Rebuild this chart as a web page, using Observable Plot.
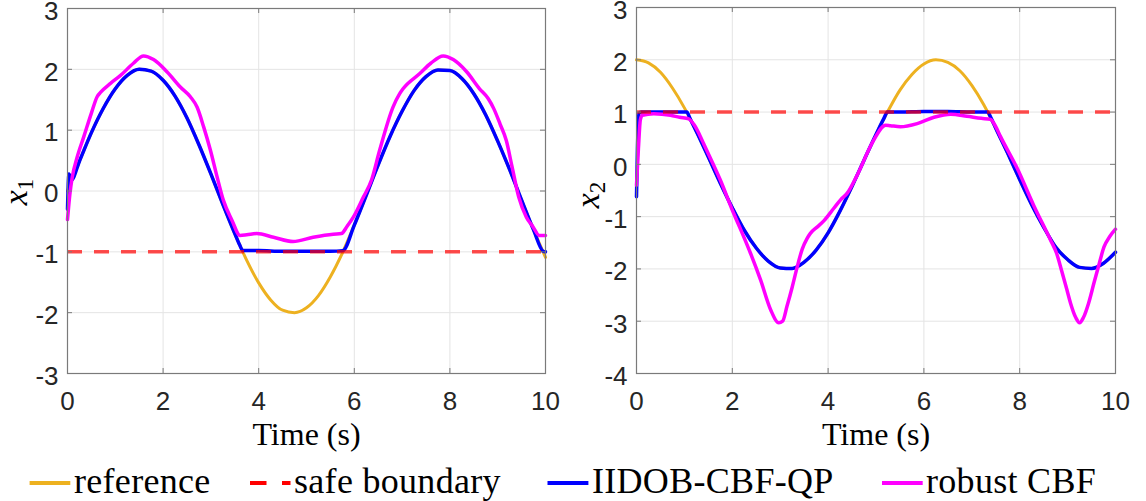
<!DOCTYPE html>
<html><head><meta charset="utf-8">
<script src="https://cdn.jsdelivr.net/npm/d3@7"></script>
<script src="https://cdn.jsdelivr.net/npm/@observablehq/plot@0.6"></script>
<style>
html,body{margin:0;padding:0;background:#fff;}
#wrap{position:relative;width:1146px;height:501px;overflow:hidden;background:#fff;}
#panels{display:flex;position:absolute;left:0;top:0;}
#legend{position:absolute;left:0;top:455px;overflow:visible;}
</style></head><body>
<div id="wrap"><div id="panels"></div><svg id="legend" width="1146" height="46"></svg></div>
<script>
// ---------- data ----------
const timeRef = [0,0.25,0.5,0.75,1,1.25,1.5,1.75,2,2.25,2.5,2.75,3,3.25,3.5,3.75,4,4.25,4.5,4.75,5,5.25,5.5,5.75,6,6.25,6.5,6.75,7,7.25,7.5,7.75,8,8.25,8.5,8.75,9,9.25,9.5,9.75,10];
const ref1 = [0,0.49,0.96,1.36,1.68,1.90,2.00,1.97,1.82,1.56,1.20,0.76,0.28,-0.22,-0.70,-1.14,-1.51,-1.79,-1.96,-2.00,-1.92,-1.72,-1.41,-1.02,-0.56,-0.07,0.43,0.90,1.31,1.65,1.88,1.99,1.98,1.85,1.60,1.25,0.82,0.35,-0.15,-0.64,-1.09];
const ref2 = [2.00,1.94,1.76,1.46,1.08,0.63,0.14,-0.36,-0.83,-1.26,-1.60,-1.85,-1.98,-1.99,-1.87,-1.64,-1.31,-0.89,-0.42,0.08,0.57,1.02,1.42,1.72,1.92,2.00,1.95,1.79,1.51,1.14,0.69,0.21,-0.29,-0.77,-1.20,-1.58,-1.82,-1.97,-1.99,-1.89,-1.68];

const timeIidob1 = [0,0.03,0.08,0.25,0.5,0.75,1,1.25,1.5,1.75,2,2.25,2.5,2.75,3,3.25,3.5,3.6,3.67,4,4.5,5,5.5,5.76,6,6.25,6.5,6.75,7,7.25,7.5,7.75,8,8.25,8.5,8.75,9,9.25,9.5,9.75,9.95,10];
const iidob1 = [-0.3,0.28,0.18,0.49,0.96,1.36,1.68,1.90,2.00,1.97,1.82,1.56,1.20,0.76,0.28,-0.22,-0.70,-0.885,-0.98,-0.98,-0.99,-0.99,-0.99,-0.98,-0.56,-0.07,0.43,0.90,1.31,1.65,1.88,1.99,1.98,1.85,1.60,1.25,0.82,0.35,-0.15,-0.64,-0.99,-1.0];

const timeRobust1 = [0,0.05,0.1,0.2,0.34,0.5,0.62,0.69,0.9,1.11,1.38,1.59,1.8,2.08,2.36,2.57,2.71,2.85,2.99,3.13,3.26,3.44,3.61,3.75,3.96,4.31,4.72,5.14,5.56,5.73,5.85,5.98,6.19,6.36,6.53,6.81,6.95,7.02,7.37,7.6,7.86,8.07,8.35,8.62,8.8,8.92,9.05,9.18,9.3,9.44,9.6,9.74,9.87,10];
const robust1 = [-0.47,-0.05,0.23,0.55,0.89,1.28,1.55,1.62,1.77,1.90,2.10,2.22,2.16,1.96,1.71,1.55,1.38,1.05,0.67,0.23,-0.15,-0.48,-0.73,-0.72,-0.70,-0.76,-0.83,-0.76,-0.71,-0.70,-0.58,-0.43,-0.10,0.18,0.67,1.38,1.60,1.68,1.93,2.10,2.22,2.16,1.96,1.68,1.52,1.35,1.10,0.83,0.40,-0.10,-0.43,-0.59,-0.73,-0.73];

const timeIidob2 = [0,0.02,0.05,0.1,0.5,1.0,1.05,1.12,1.25,1.5,1.75,2,2.25,2.5,2.75,3,3.25,3.5,3.75,4,4.25,4.5,4.75,5,5.16,5.24,5.5,6,6.5,7,7.33,7.4,7.5,7.75,8,8.25,8.5,8.75,9,9.25,9.5,9.75,10];
const iidob2 = [-0.62,0.3,0.97,1.0,1.0,1.0,1.0,0.87,0.63,0.14,-0.36,-0.83,-1.26,-1.60,-1.85,-1.98,-1.99,-1.87,-1.64,-1.31,-0.89,-0.42,0.08,0.57,0.87,1.0,1.0,1.01,1.01,1.0,1.0,0.89,0.69,0.21,-0.29,-0.77,-1.20,-1.58,-1.82,-1.97,-1.99,-1.89,-1.68];

const timeRobust2 = [0,0.04,0.08,0.12,0.36,0.71,0.9,1.09,1.2,1.34,1.4,1.75,2.03,2.2,2.38,2.59,2.8,2.97,3.05,3.14,3.25,3.35,3.46,3.56,3.63,3.77,3.91,4.12,4.26,4.4,4.6,4.95,5.2,5.3,5.51,5.86,6.21,6.56,6.9,7.2,7.39,7.5,7.6,7.95,8.29,8.64,8.77,8.88,8.98,9.06,9.17,9.25,9.33,9.44,9.55,9.66,9.76,9.88,10];
const robust2 = [-0.4,0.3,0.85,0.94,0.97,0.94,0.90,0.87,0.76,0.52,0.40,-0.30,-0.94,-1.30,-1.70,-2.21,-2.78,-3.03,-3.00,-2.72,-2.35,-1.98,-1.62,-1.42,-1.32,-1.20,-1.08,-0.84,-0.68,-0.55,-0.22,0.46,0.75,0.74,0.72,0.78,0.90,0.96,0.92,0.88,0.86,0.72,0.53,-0.08,-0.78,-1.44,-1.70,-2.05,-2.38,-2.65,-2.93,-3.03,-2.93,-2.65,-2.27,-1.90,-1.58,-1.38,-1.24];

const safe1 = -1;
const safe2 = 1;
const xTicks = [0,2,4,6,8,10];
const yTicks1 = [-3,-2,-1,0,1,2,3];
const yTicks2 = [-4,-3,-2,-1,0,1,2,3];
const xLabel = "Time (s)";
const yNames = ["x", "x"];
const ySubs = ["1", "2"];
const legendLabels = ["reference", "safe boundary", "IIDOB-CBF-QP", "robust CBF"];
const legendColors = ["#EDB120", "#FF0000", "#0000FF", "#FF00FF"];

// ---------- helpers ----------
const zip = (ts, vs) => ts.map((t, i) => ({t, v: vs[i]}));
const fmt = d => String(d);
const axisGray = "#7a7a7a";
const gridGray = "#e4e4e4";
const serif = "'Liberation Serif', 'Times New Roman', serif";
const sans = "'Liberation Sans', Arial, Helvetica, sans-serif";

function panel(cfg) {
  const W = 573, H = 455;
  const innerW = W - cfg.ml - cfg.mr, innerH = H - cfg.mt - cfg.mb;
  const svg = Plot.plot({
    width: W, height: H,
    marginLeft: cfg.ml, marginRight: cfg.mr, marginTop: cfg.mt, marginBottom: cfg.mb,
    style: {fontFamily: sans, background: "white", overflow: "visible", color: "#262626"},
    x: {domain: [0, 10]},
    y: {domain: cfg.yDomain},
    marks: [
      Plot.gridX(xTicks, {stroke: gridGray, strokeOpacity: 1}),
      Plot.gridY(cfg.yTicks, {stroke: gridGray, strokeOpacity: 1}),
      Plot.line(zip(timeRef, cfg.ref), {x: "t", y: "v", stroke: "#EDB120", strokeWidth: 3, curve: "monotone-x"}),
      Plot.line(zip(cfg.tB, cfg.b), {x: "t", y: "v", stroke: "#0000FF", strokeWidth: 3.5, curve: "monotone-x"}),
      Plot.line(zip(cfg.tM, cfg.m), {x: "t", y: "v", stroke: "#FF00FF", strokeWidth: 3.5, curve: "monotone-x"}),
      Plot.ruleY([cfg.safe], {stroke: "#FF0000", strokeOpacity: 0.7, strokeWidth: 3.5, strokeDasharray: "15,12"}),
      Plot.frame({stroke: axisGray, strokeWidth: 1.2}),
      Plot.tickX(xTicks, {x: d => d, stroke: axisGray, insetTop: innerH - 5}),
      Plot.tickX(xTicks, {x: d => d, stroke: axisGray, insetBottom: innerH - 5}),
      Plot.tickY(cfg.yTicks, {y: d => d, stroke: axisGray, insetRight: innerW - 5}),
      Plot.tickY(cfg.yTicks, {y: d => d, stroke: axisGray, insetLeft: innerW - 5}),
      Plot.axisX(xTicks, {tickSize: 0, tickPadding: 18.5, fontSize: 26, tickFormat: fmt, label: null, fill: "#262626"}),
      Plot.axisY(cfg.yTicks, {tickSize: 0, tickPadding: 9, fontSize: 26, dy: 3, tickFormat: fmt, label: null, fill: "#262626"}),
      Plot.text([xLabel], {text: d => d, frameAnchor: "bottom", dy: 71, fontFamily: serif, fontSize: 32, fill: "#000"})
    ]
  });
  const t = d3.select(svg).append("text")
    .attr("transform", `translate(${cfg.labX},${cfg.labY}) rotate(-90)`)
    .attr("text-anchor", "middle")
    .attr("font-family", serif).attr("font-size", 34).attr("fill", "#000");
  t.append("tspan").attr("font-style", "italic").text(cfg.yName);
  t.append("tspan").attr("font-size", 23).attr("dy", 6).text(cfg.ySub);
  return svg;
}

const panels = document.getElementById("panels");
panels.appendChild(panel({ml: 67, mr: 28, mt: 8, mb: 82, yDomain: [-3, 3], yTicks: yTicks1,
  ref: ref1, tB: timeIidob1, b: iidob1, tM: timeRobust1, m: robust1, safe: safe1,
  labX: 27, labY: 192, yName: yNames[0], ySub: ySubs[0]}));
panels.appendChild(panel({ml: 63, mr: 31, mt: 7, mb: 82, yDomain: [-4, 3], yTicks: yTicks2,
  ref: ref2, tB: timeIidob2, b: iidob2, tM: timeRobust2, m: robust2, safe: safe2,
  labX: 26, labY: 195, yName: yNames[1], ySub: ySubs[1]}));

// ---------- legend ----------
const leg = d3.select("#legend");
const swatchX = [[29.6, 70.3], [250, 290.5], [547.5, 588.4], [882, 922.7]];
const textX = [74, 294, 592, 926];
legendLabels.forEach((lab, i) => {
  const line = leg.append("line")
    .attr("x1", swatchX[i][0]).attr("x2", swatchX[i][1])
    .attr("y1", 28).attr("y2", 28)
    .attr("stroke", legendColors[i]).attr("stroke-width", 4);
  if (i === 1) line.attr("stroke-dasharray", "16.5,15.5");
  leg.append("text").attr("x", textX[i]).attr("y", 38)
    .attr("font-family", serif).attr("font-size", 36).attr("letter-spacing", "0.3px")
    .attr("fill", "#000").text(lab);
});
</script>
</body></html>
